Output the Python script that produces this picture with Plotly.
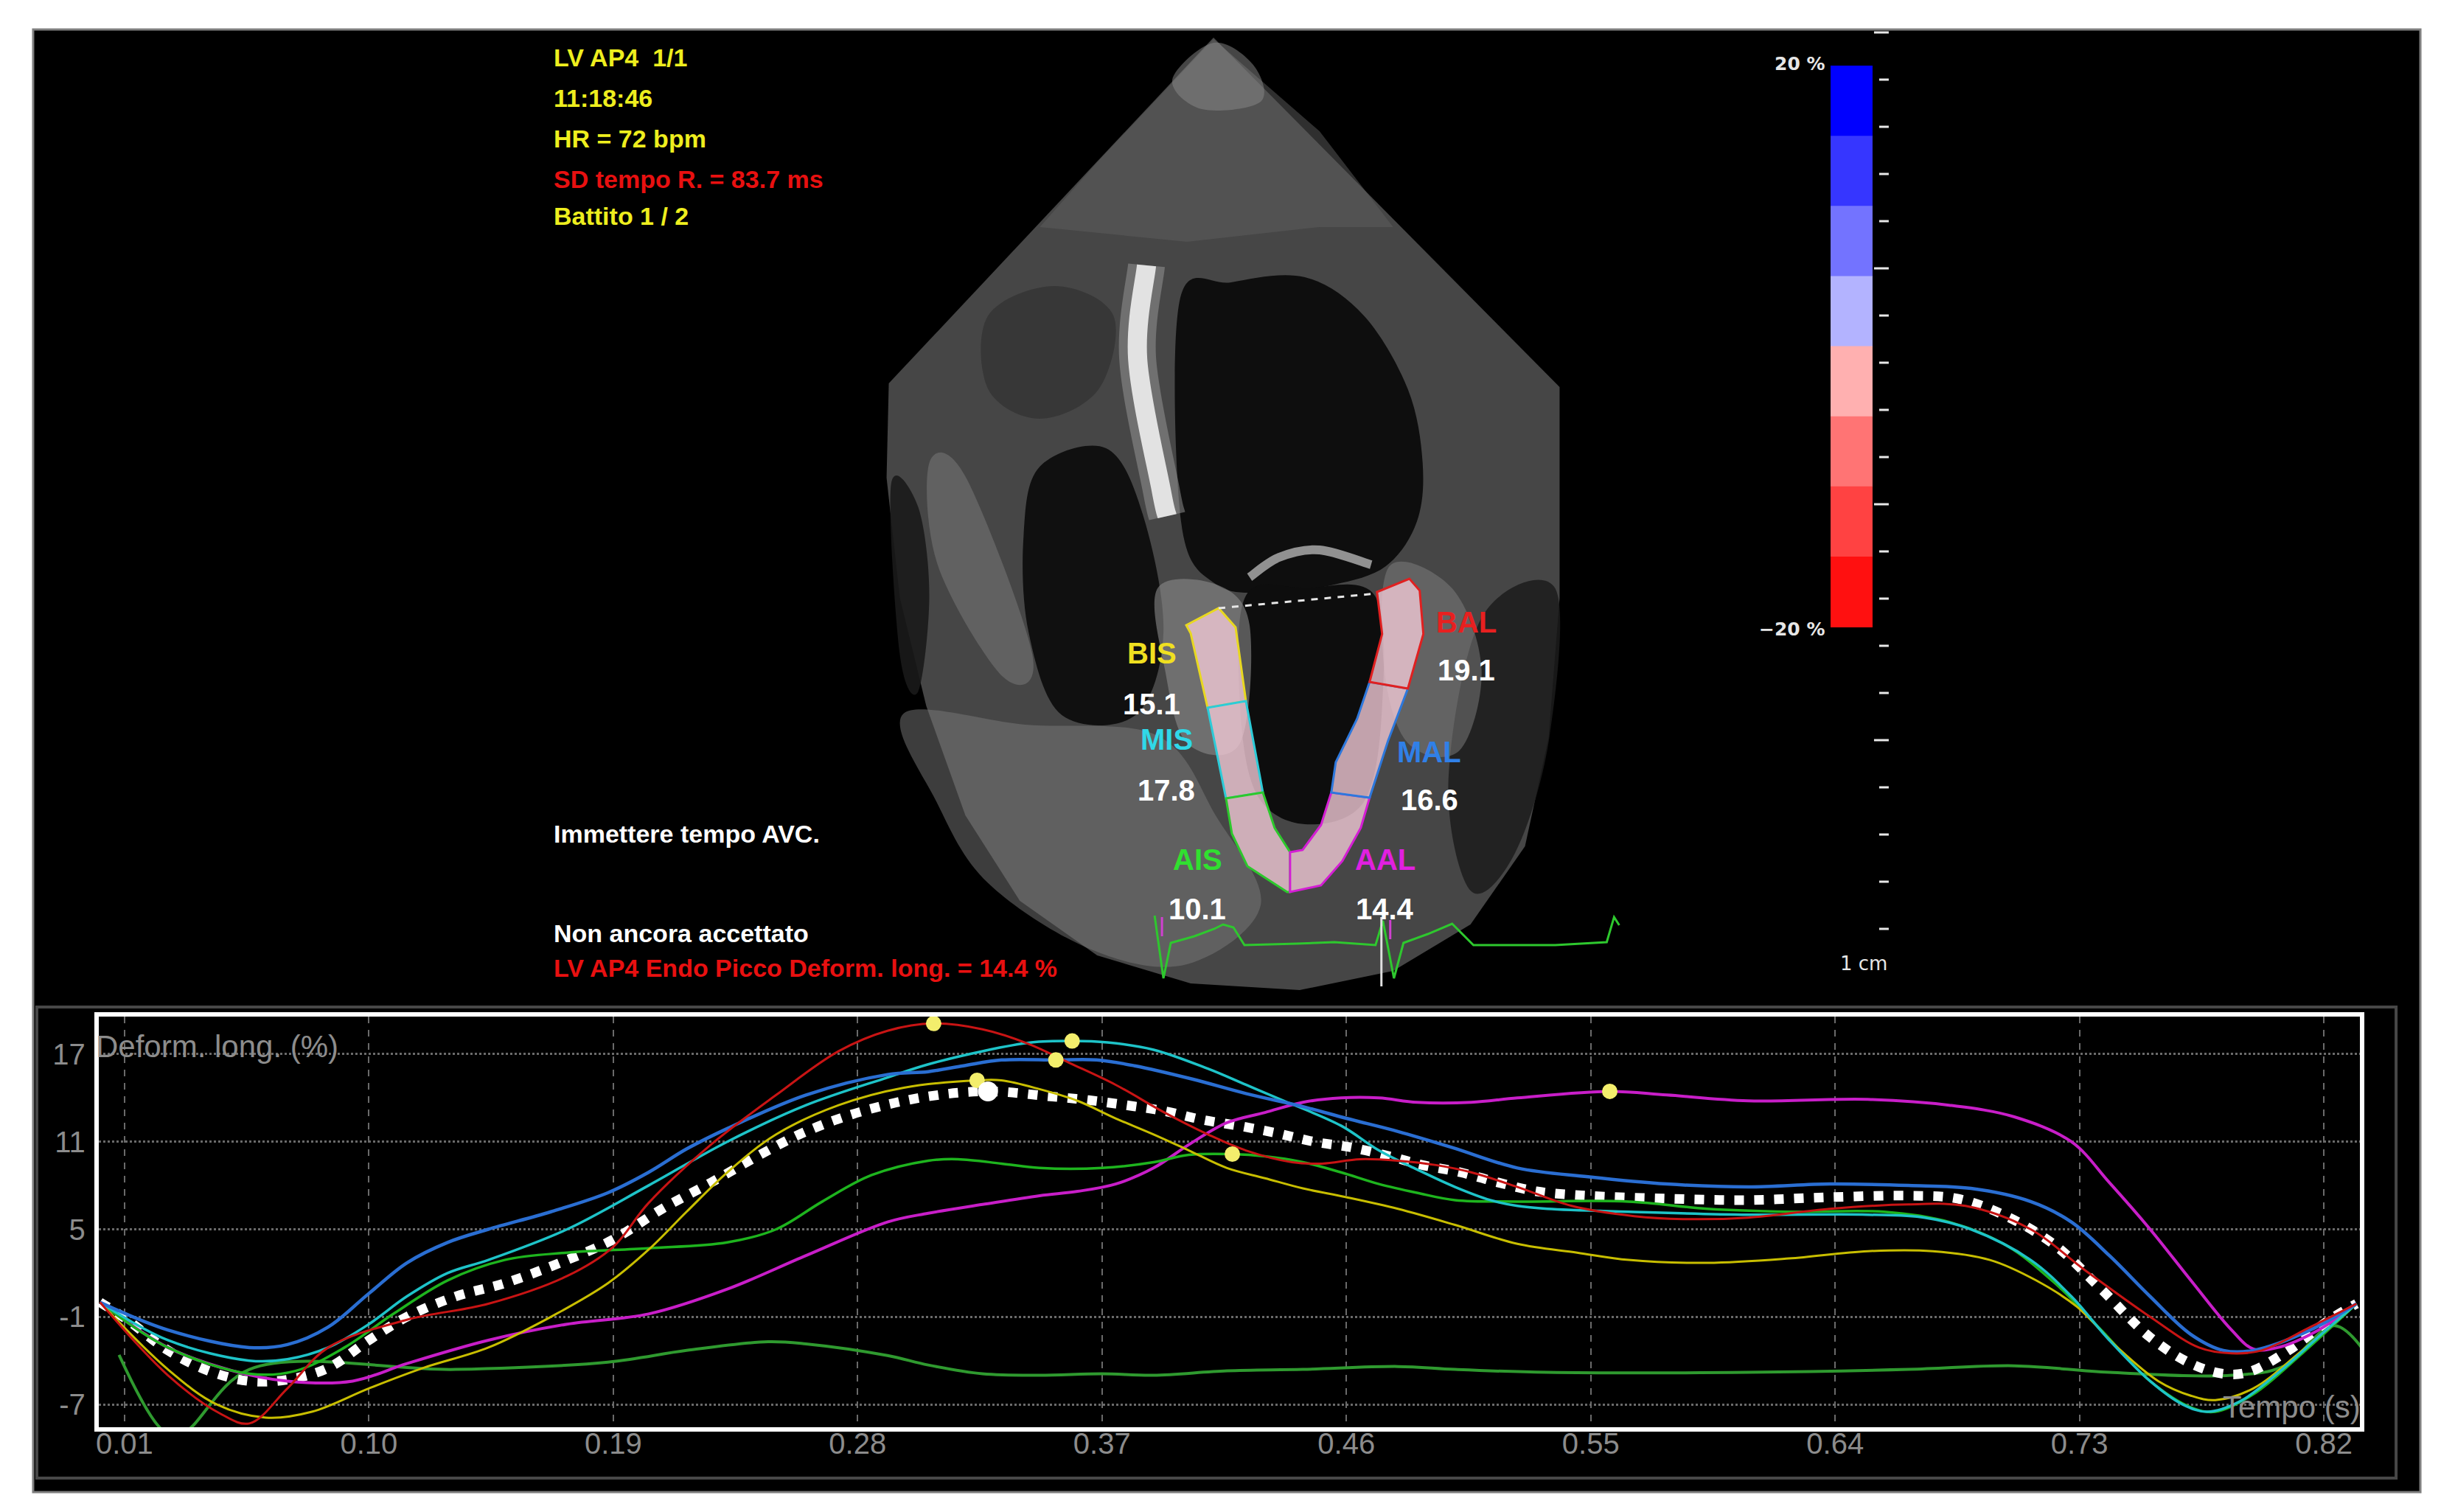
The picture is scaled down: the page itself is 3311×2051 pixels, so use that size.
import plotly.graph_objects as go

W, H = 3311, 2051

# ---- strain curves (time in s, longitudinal deformation in %) ----
t_bal = [0.001, 0.026, 0.045, 0.056, 0.07, 0.085, 0.114, 0.144, 0.173, 0.19, 0.203, 0.226, 0.25, 0.273,
         0.291, 0.308, 0.326, 0.343, 0.358, 0.375, 0.393, 0.409, 0.423, 0.44, 0.451, 0.465, 0.479, 0.493,
         0.506, 0.523, 0.543, 0.566, 0.584, 0.608, 0.638, 0.667, 0.688, 0.712, 0.732, 0.756, 0.774, 0.786,
         0.797, 0.815, 0.832]
bal = [0.0, -5.0, -7.6, -8.3, -5.9, -3.1, -1.2, -0.1, 1.8, 3.8, 6.8, 10.8, 14.2, 17.2,
       18.6, 19.1, 18.7, 17.7, 16.4, 14.9, 13.0, 11.5, 10.4, 9.6, 9.5, 9.8, 9.7, 9.4,
       8.9, 7.9, 6.6, 5.9, 5.7, 5.8, 6.4, 6.7, 6.6, 5.0, 2.2, -1.0, -3.1, -3.5,
       -3.3, -1.7, -0.1]

t_mal = [0.001, 0.026, 0.056, 0.07, 0.085, 0.1, 0.114, 0.129, 0.144, 0.167, 0.188, 0.203, 0.217, 0.232,
         0.261, 0.291, 0.306, 0.319, 0.333, 0.353, 0.368, 0.382, 0.403, 0.423, 0.444, 0.46, 0.479, 0.499,
         0.523, 0.549, 0.578, 0.608, 0.638, 0.667, 0.69, 0.712, 0.727, 0.741, 0.756, 0.771, 0.783, 0.794,
         0.815, 0.832]
mal = [0.0, -1.9, -3.1, -2.9, -1.7, 0.6, 2.7, 4.1, 5.0, 6.2, 7.5, 8.9, 10.5, 11.9,
       14.2, 15.6, 15.8, 16.2, 16.6, 16.6, 16.6, 16.2, 15.3, 14.3, 13.4, 12.6, 11.7, 10.6,
       9.2, 8.6, 8.1, 7.9, 8.1, 8.0, 7.8, 6.9, 5.5, 3.2, 0.4, -2.2, -3.3, -3.3,
       -1.9, -0.1]

t_mis = [0.001, 0.026, 0.056, 0.07, 0.085, 0.1, 0.114, 0.129, 0.144, 0.173, 0.203, 0.232, 0.261, 0.291,
         0.306, 0.326, 0.344, 0.359, 0.372, 0.389, 0.409, 0.423, 0.437, 0.458, 0.472, 0.486, 0.5, 0.513,
         0.523, 0.534, 0.564, 0.608, 0.652, 0.673, 0.69, 0.712, 0.727, 0.741, 0.756, 0.768, 0.777, 0.789,
         0.804, 0.819, 0.832]
mis = [0.0, -2.6, -4.0, -3.9, -3.1, -1.5, 0.4, 2.0, 2.9, 5.0, 8.0, 11.0, 13.5, 15.4,
       16.3, 17.2, 17.8, 17.9, 17.8, 17.3, 16.0, 14.9, 13.8, 12.1, 10.4, 9.1, 7.9, 7.0,
       6.6, 6.4, 6.2, 6.0, 6.0, 5.8, 5.0, 2.9, 0.4, -2.6, -5.4, -7.0, -7.5, -6.8,
       -4.7, -2.2, -0.1]

t_bis = [0.001, 0.026, 0.044, 0.062, 0.079, 0.1, 0.12, 0.144, 0.167, 0.188, 0.203, 0.217, 0.232, 0.25,
         0.273, 0.297, 0.324, 0.333, 0.347, 0.361, 0.375, 0.389, 0.402, 0.416, 0.43, 0.444, 0.46, 0.479,
         0.5, 0.523, 0.545, 0.564, 0.593, 0.623, 0.652, 0.676, 0.697, 0.714, 0.729, 0.744, 0.759, 0.771,
         0.78, 0.794, 0.812, 0.832]
bis = [0.0, -4.6, -7.0, -7.9, -7.5, -5.9, -4.5, -3.1, -1.0, 1.3, 3.6, 6.2, 8.9, 11.5,
       13.5, 14.7, 15.2, 15.2, 14.6, 13.8, 12.6, 11.5, 10.4, 9.2, 8.5, 7.8, 7.2, 6.4,
       5.3, 4.0, 3.4, 2.9, 2.7, 3.0, 3.5, 3.5, 2.9, 1.5, -0.3, -3.1, -5.4, -6.4,
       -6.7, -5.9, -3.3, -0.1]

t_ais = [0.001, 0.026, 0.056, 0.073, 0.091, 0.109, 0.129, 0.15, 0.173, 0.203, 0.232, 0.25, 0.267, 0.285,
         0.306, 0.317, 0.333, 0.347, 0.37, 0.389, 0.402, 0.418, 0.43, 0.444, 0.458, 0.472, 0.486, 0.5,
         0.523, 0.564, 0.593, 0.623, 0.658, 0.682, 0.703, 0.721, 0.738, 0.756, 0.771, 0.78, 0.794, 0.812,
         0.832]
ais = [0.0, -3.1, -4.9, -4.7, -3.1, -0.8, 1.5, 2.9, 3.4, 3.7, 4.1, 5.0, 6.9, 8.7,
       9.7, 9.8, 9.5, 9.2, 9.2, 9.6, 10.1, 10.15, 10.0, 9.6, 8.9, 8.1, 7.5, 7.0,
       6.9, 6.9, 6.4, 6.2, 6.2, 5.5, 3.9, 1.3, -1.9, -5.4, -7.2, -7.5, -6.3, -3.5,
       -0.1]

t_aal = [0.001, 0.026, 0.05, 0.07, 0.094, 0.114, 0.144, 0.173, 0.203, 0.232, 0.261, 0.291, 0.306, 0.326,
         0.347, 0.361, 0.375, 0.389, 0.402, 0.416, 0.43, 0.444, 0.458, 0.472, 0.486, 0.506, 0.523, 0.557,
         0.578, 0.608, 0.652, 0.682, 0.706, 0.727, 0.741, 0.756, 0.771, 0.786, 0.794, 0.803, 0.818, 0.832]
aal = [0.0, -3.1, -4.7, -5.4, -5.4, -4.2, -2.6, -1.5, -0.8, 0.9, 3.2, 5.5, 6.1, 6.7,
       7.3, 7.6, 8.1, 9.2, 10.8, 12.3, 13.0, 13.7, 14.0, 14.0, 13.7, 13.7, 14.0, 14.45,
       14.2, 13.8, 13.9, 13.5, 12.7, 11.0, 8.2, 5.0, 1.5, -1.9, -3.2, -3.1, -1.9, -0.1]

t_glob = [0.001, 0.011, 0.026, 0.041, 0.056, 0.07, 0.085, 0.1, 0.114, 0.132, 0.15, 0.173, 0.19, 0.208,
          0.226, 0.244, 0.261, 0.282, 0.306, 0.328, 0.351, 0.365, 0.379, 0.393, 0.407, 0.42, 0.434, 0.448,
          0.462, 0.476, 0.488, 0.502, 0.516, 0.53, 0.549, 0.578, 0.608, 0.638, 0.667, 0.685, 0.703, 0.721,
          0.738, 0.756, 0.771, 0.783, 0.792, 0.807, 0.822, 0.832]
glob = [0.0, -1.2, -3.3, -4.7, -5.4, -5.3, -4.5, -2.6, -1.0, 0.4, 1.3, 2.9, 4.3, 6.4,
        8.2, 10.1, 11.7, 13.1, 14.1, 14.45, 14.1, 13.85, 13.5, 13.1, 12.5, 12.1, 11.6, 11.0,
        10.6, 10.0, 9.4, 8.9, 8.2, 7.6, 7.3, 7.1, 7.0, 7.2, 7.3, 7.1, 5.9, 3.9,
        0.9, -2.4, -4.2, -4.9, -4.8, -3.3, -1.2, -0.1]

t_ecg = [0.008, 0.025, 0.032, 0.056, 0.132, 0.188, 0.217, 0.247, 0.261, 0.291, 0.306, 0.326, 0.347, 0.37,
         0.389, 0.416, 0.444, 0.479, 0.5, 0.534, 0.608, 0.667, 0.706, 0.741, 0.786, 0.805, 0.824, 0.838]
ecg = [-3.6, -8.9, -8.9, -4.6, -4.6, -4.1, -3.3, -2.7, -2.85, -3.65, -4.3, -4.9, -5.0, -4.9,
       -5.0, -4.7, -4.6, -4.4, -4.6, -4.8, -4.8, -4.6, -4.35, -4.8, -5.0, -4.4, -1.6, -4.2]

# peak markers (segments) and global peak
peak_t = [0.308, 0.359, 0.353, 0.324, 0.418, 0.557]
peak_v = [19.1, 17.9, 16.6, 15.2, 10.15, 14.45]
glob_peak_t = [0.328]
glob_peak_v = [14.45]

x_ticks = [0.01, 0.10, 0.19, 0.28, 0.37, 0.46, 0.55, 0.64, 0.73, 0.82]
y_ticks = [17, 11, 5, -1, -7]

seg_names = ['BIS', 'MIS', 'AIS', 'BAL', 'MAL', 'AAL']
seg_peaks = ['15.1', '17.8', '10.1', '19.1', '16.6', '14.4']

info_lines = ['LV AP4\u00a0 1/1', '11:18:46', 'HR = 72 bpm', 'SD tempo R. = 83.7 ms', 'Battito 1 / 2']
status_lines = ['Immettere tempo AVC.', 'Non ancora accettato', 'LV AP4 Endo Picco Deform. long. = 14.4 %']

scale_labels = ['20 %', '\u221220 %']
scale_colors = ['#0000ff', '#3636ff', '#7373ff', '#b3b3ff', '#ffb0b0', '#ff7474', '#ff4242', '#ff1010']


# ---- helpers: screen pixels -> paper ----
def px(x):
    return x / W


def py(y):
    return 1 - y / H


def pth(pts, close=True):
    s = 'M ' + ' L '.join(f'{px(x):.5f},{py(y):.5f}' for x, y in pts)
    return s + (' Z' if close else '')


def smooth(pts, close=True):
    # Catmull-Rom curve through the points, as cubic beziers
    P = [(px(x), py(y)) for x, y in pts]
    n = len(P)
    s = f'M {P[0][0]:.5f},{P[0][1]:.5f}'
    last = n if close else n - 1
    for i in range(last):
        p0 = P[(i - 1) % n] if (close or i > 0) else P[i]
        p1 = P[i]
        p2 = P[(i + 1) % n]
        p3 = P[(i + 2) % n] if (close or i + 2 < n) else p2
        c1 = (p1[0] + (p2[0] - p0[0]) / 6, p1[1] + (p2[1] - p0[1]) / 6)
        c2 = (p2[0] - (p3[0] - p1[0]) / 6, p2[1] - (p3[1] - p1[1]) / 6)
        s += f' C {c1[0]:.5f},{c1[1]:.5f} {c2[0]:.5f},{c2[1]:.5f} {p2[0]:.5f},{p2[1]:.5f}'
    return s + (' Z' if close else '')


FONT = 'Liberation Sans, Arial, sans-serif'

shapes = []


def blob(pts, fill, opacity=1.0, curved=True):
    shapes.append(dict(type='path', path=smooth(pts) if curved else pth(pts), xref='paper', yref='paper',
                       fillcolor=fill, opacity=opacity, layer='below', line=dict(width=0)))


def poly(pts, fill, line_color, lw):
    shapes.append(dict(type='path', path=pth(pts), xref='paper', yref='paper', fillcolor=fill, layer='below',
                       line=dict(color=line_color, width=lw)))


def stroke(pts, color, lw, opacity=1.0, curved=False):
    shapes.append(dict(type='path', path=smooth(pts, close=False) if curved else pth(pts, close=False),
                       xref='paper', yref='paper', layer='below', opacity=opacity,
                       line=dict(color=color, width=lw)))


def rect(x0, y0, x1, y1, fill=None, line_color=None, lw=0):
    shapes.append(dict(type='rect', xref='paper', yref='paper', x0=px(x0), x1=px(x1), y0=py(y1), y1=py(y0),
                       fillcolor=fill, layer='below', line=dict(color=line_color or 'rgba(0,0,0,0)', width=lw)))


def seg(x0, y0, x1, y1, color, lw, dash='solid'):
    shapes.append(dict(type='line', xref='paper', yref='paper', x0=px(x0), x1=px(x1), y0=py(y0), y1=py(y1),
                       layer='below', line=dict(color=color, width=lw, dash=dash)))


# background screen
rect(33, 32, 3275, 2016, fill='black', line_color='#7f7f7f', lw=3)
rect(38, 1358, 3242, 1997, line_color='#474747', lw=4)

# ultrasound sector (tonal approximation of the echo image)
sector = [(1636, 43), (1195, 512), (1192, 640), (1210, 803), (1246, 950), (1299, 1098), (1373, 1214),
          (1478, 1288), (1605, 1326), (1753, 1335), (1880, 1309), (1985, 1246), (2059, 1140), (2091, 993),
          (2106, 803), (2106, 517)]
blob(sector, '#464646', curved=False)
blob([(1636, 45), (1480, 210), (1400, 300), (1600, 320), (1780, 300), (1880, 300), (1780, 170)],
     '#5e5e5e', 0.5, curved=False)
blob([(1636, 50), (1580, 100), (1620, 140), (1700, 130), (1690, 80)], '#8a8a8a', 0.5)
# cavities
blob([(1590, 400), (1660, 375), (1760, 368), (1840, 420), (1900, 520), (1920, 620), (1912, 700),
      (1870, 760), (1800, 785), (1720, 795), (1640, 785), (1592, 700)], '#0e0e0e')
blob([(1400, 625), (1490, 600), (1540, 690), (1568, 850), (1530, 962), (1430, 962), (1385, 850),
      (1378, 720)], '#101010')
blob([(1680, 800), (1760, 790), (1855, 800), (1865, 950), (1840, 1080), (1760, 1110), (1695, 1070),
      (1672, 950)], '#0d0d0d')
blob([(1198, 650), (1235, 680), (1250, 800), (1235, 930), (1210, 880)], '#1a1a1a', 0.9)
blob([(2000, 830), (2100, 790), (2092, 993), (2045, 1150), (1985, 1200), (1955, 1050)], '#1c1c1c', 0.85)
blob([(1330, 420), (1420, 380), (1500, 420), (1480, 520), (1400, 560), (1330, 520)], '#303030', 0.7)
# brighter tissue
blob([(1250, 620), (1300, 640), (1390, 880), (1350, 910), (1262, 760)], '#7c7c7c', 0.5)
blob([(1215, 960), (1380, 975), (1560, 990), (1640, 1100), (1700, 1220), (1600, 1300), (1470, 1280),
      (1330, 1190), (1260, 1080)], '#7a7a7a', 0.5)
blob([(1875, 760), (1960, 790), (2000, 900), (1970, 1010), (1900, 1000), (1868, 900)], '#808080', 0.5)
blob([(1560, 790), (1640, 785), (1685, 840), (1672, 1000), (1600, 1000), (1570, 900)], '#8a8a8a', 0.6)
stroke([(1545, 352), (1533, 479), (1565, 657), (1573, 692)], '#9a9a9a', 50, 0.5, curved=True)
stroke([(1545, 352), (1533, 479), (1565, 657), (1573, 692)], '#e2e2e2', 26, curved=True)
stroke([(1685, 775), (1725, 748), (1780, 738), (1850, 758)], '#a0a0a0', 12, 0.9, curved=True)

# strain ROI band, coloured per segment
roi = {
    'BIS': ([(1599, 840), (1643, 817), (1666, 843), (1680, 943), (1628, 952), (1605, 851)], '#e8d820'),
    'MIS': ([(1628, 952), (1680, 943), (1703, 1067), (1653, 1075)], '#2ccbd8'),
    'AIS': ([(1653, 1075), (1703, 1067), (1719, 1115), (1740, 1148), (1740, 1202), (1736, 1202),
             (1682, 1167), (1661, 1123)], '#2cc82c'),
    'AAL': ([(1740, 1148), (1757, 1145), (1782, 1111), (1796, 1067), (1848, 1074), (1836, 1115),
             (1811, 1160), (1782, 1193), (1740, 1202)], '#d41ed4'),
    'MAL': ([(1796, 1067), (1802, 1026), (1831, 967), (1848, 917), (1900, 926), (1873, 997),
             (1848, 1074)], '#2d78dc'),
    'BAL': ([(1848, 917), (1865, 852), (1858, 795), (1902, 777), (1916, 793), (1921, 852),
             (1900, 926)], '#e02020'),
}
for pts, col in roi.values():
    poly(pts, 'rgba(240,200,212,0.8)', col, 3)
seg(1643, 817, 1858, 797, '#e6e6e6', 3, dash='dash')

# ECG inside the image
ecg_px = [(1556, 1234), (1568, 1319), (1578, 1271), (1610, 1262), (1637, 1252), (1649, 1246), (1663, 1250),
          (1678, 1274), (1750, 1272), (1800, 1270), (1856, 1274), (1866, 1241), (1881, 1319), (1894, 1271),
          (1927, 1259), (1960, 1245), (1989, 1274), (2100, 1274), (2170, 1270), (2180, 1236), (2187, 1247)]
stroke(ecg_px, '#2ec82e', 3)
seg(1864, 1236, 1864, 1330, '#e0e0e0', 3)
seg(1566, 1236, 1566, 1262, '#d040d0', 3)
seg(1876, 1240, 1876, 1266, '#d040d0', 3)

# strain colour scale and depth ticks
top, bot = 81, 842
step = (bot - top) / len(scale_colors)
for i, col in enumerate(scale_colors):
    rect(2474, top + i * step, 2531, top + (i + 1) * step + 1, fill=col)
for k in range(20):
    yk = 36 + 64.0 * k
    seg(2533 if k % 5 == 0 else 2540, yk, 2553, yk, '#e8e8e8', 3)

# ---- figure ----
fig = go.Figure()

fig.add_trace(go.Scatter(x=t_ecg, y=ecg, mode='lines', line=dict(color='#2f9a2f', width=4, shape='spline'),
                         hoverinfo='skip'))
fig.add_trace(go.Scatter(x=t_glob, y=glob, mode='lines',
                         line=dict(color='white', width=13, dash='13px,14px', shape='spline'), hoverinfo='skip'))
curves = [
    (t_aal, aal, '#c81ec8', 4),
    (t_ais, ais, '#1eb41e', 3.5),
    (t_bis, bis, '#c8be00', 3),
    (t_mis, mis, '#1ec3c8', 3.5),
    (t_mal, mal, '#2a6ed2', 4.5),
    (t_bal, bal, '#c81414', 3),
]
for tx, vy, col, lw in curves:
    fig.add_trace(go.Scatter(x=tx, y=vy, mode='lines', line=dict(color=col, width=lw, shape='spline'),
                             hoverinfo='skip'))
fig.add_trace(go.Scatter(x=peak_t, y=peak_v, mode='markers', marker=dict(color='#f3ee6c', size=21),
                         cliponaxis=False, hoverinfo='skip'))
fig.add_trace(go.Scatter(x=glob_peak_t, y=glob_peak_v, mode='markers', marker=dict(color='white', size=27),
                         hoverinfo='skip'))

annotations = []


def text(s, x, y, color, size, xanchor='left', bold=True, family=FONT):
    annotations.append(dict(text=f'<b>{s}</b>' if bold else s, x=px(x), y=py(y), xref='paper', yref='paper',
                            xanchor=xanchor, yanchor='middle', showarrow=False,
                            font=dict(color=color, size=size, family=family)))


info_colors = ['#eeee1e', '#eeee1e', '#eeee1e', '#e81010', '#eeee1e']
for s, c, yy in zip(info_lines, info_colors, [70, 125, 180, 235, 285]):
    text(s, 738, yy, c, 34)
for s, c, yy in zip(status_lines, ['white', 'white', '#e81010'], [1123, 1258, 1305]):
    text(s, 738, yy, c, 34)

seg_label_px = [(1552, 878, 947), (1572, 995, 1064), (1614, 1158, 1225),
                (1979, 836, 901), (1929, 1012, 1077), (1869, 1158, 1225)]
seg_colors = ['#f0e020', '#30d8e8', '#30e030', '#e82020', '#3080e8', '#e020e0']
for name, val, (xx, yn, yv), col in zip(seg_names, seg_peaks, seg_label_px, seg_colors):
    text(name, xx, yn, col, 40, xanchor='center')
    text(val, xx, yv, 'white', 40, xanchor='center')

text(scale_labels[0], 2469, 79, '#e6e6e6', 25, xanchor='right', family='DejaVu Sans')
text(scale_labels[1], 2469, 846, '#e6e6e6', 25, xanchor='right', family='DejaVu Sans')
text('1 cm', 2519, 1299, '#e6e6e6', 26, xanchor='center', bold=False, family='DejaVu Sans')

text('Deform. long. (%)', 116, 1411, '#8c8c8c', 42, bold=False)
text('Tempo (s)', 3196, 1900, '#8c8c8c', 42, xanchor='right', bold=False)

fig.update_layout(
    width=W, height=H, margin=dict(l=0, r=0, t=0, b=0),
    paper_bgcolor='white', plot_bgcolor='rgba(0,0,0,0)', showlegend=False,
    shapes=shapes, annotations=annotations,
    xaxis=dict(domain=[px(122), px(3193)], range=[0.0005, 0.8333], tickvals=x_ticks,
               ticktext=[f'{v:.2f}' for v in x_ticks], showgrid=True, gridcolor='#6a6a6a', griddash='dash',
               gridwidth=2, zeroline=False, showline=True, linecolor='white', linewidth=6, mirror=True,
               ticks='', ticklabelstandoff=-18, tickfont=dict(color='#8c8c8c', size=40, family=FONT)),
    yaxis=dict(domain=[py(1928), py(1371)], range=[-8.56, 19.57], tickvals=y_ticks,
               ticktext=[str(v) for v in y_ticks], showgrid=True, gridcolor='#6a6a6a', griddash='dot',
               gridwidth=3, zeroline=False, showline=True, linecolor='white', linewidth=6, mirror=True,
               ticks='', ticklabelstandoff=4, tickfont=dict(color='#8c8c8c', size=40, family=FONT)),
)

fig.write_html('out.html')
